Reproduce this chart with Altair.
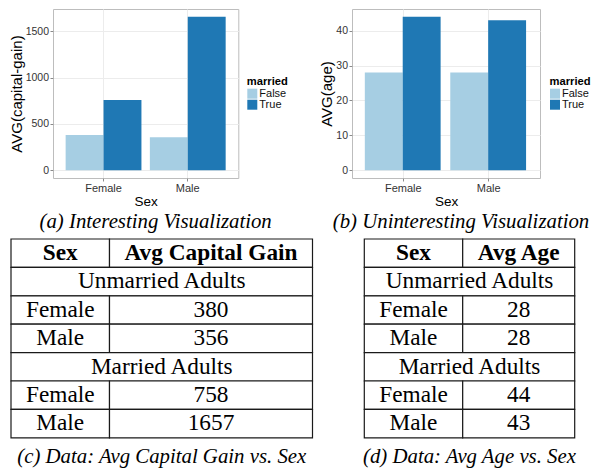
import altair as alt
import pandas as pd

# ---------------- data ----------------
sexes = ["Female", "Male"]
married_levels = ["False", "True"]
gain_unmarried = [380, 356]
gain_married = [758, 1657]
age_unmarried = [28, 28]
age_married = [44, 43]
gain_ticks = [0, 500, 1000, 1500]
age_ticks = [0, 10, 20, 30, 40]
bar_colors = ["#a6cee3", "#1f78b4"]
captions = [
    "(a) Interesting Visualization",
    "(b) Uninteresting Visualization",
    "(c) Data: Avg Capital Gain vs. Sex",
    "(d) Data: Avg Age vs. Sex",
]
group_labels = ["Unmarried Adults", "Married Adults"]
col_header = "Sex"
value_headers = ["Avg Capital Gain", "Avg Age"]

# ---------------- layout constants ----------------
PANEL_H = 169
ROW_H = 28.4
SANS = "Liberation Sans"
SERIF = "Liberation Serif"
CAP_SIZE = 20.8


def bar_df(unmarried, married):
    rows = []
    for s, u, m in zip(sexes, unmarried, married):
        rows.append({"Sex": s, "married": married_levels[0], "value": u})
        rows.append({"Sex": s, "married": married_levels[1], "value": m})
    return pd.DataFrame(rows)


def bar_chart(df, ytitle, ticks, panel_w, legend_x, caption, cap_dx, cap_offset):
    vmax = float(df["value"].max())
    pad = 0.05 * vmax
    return (
        alt.Chart(df)
        .mark_bar()
        .encode(
            x=alt.X(
                "Sex:N",
                sort=sexes,
                scale=alt.Scale(paddingInner=0.1, paddingOuter=0.15),
                axis=alt.Axis(
                    title="Sex", labelAngle=0, bandPosition=0.5, grid=True,
                    labelFontSize=11, titleFontSize=13.5, labelPadding=1, titlePadding=1,
                ),
            ),
            xOffset=alt.XOffset(
                "married:N", sort=married_levels,
                scale=alt.Scale(paddingInner=0, paddingOuter=0),
            ),
            y=alt.Y(
                "value:Q",
                scale=alt.Scale(domain=[-pad, vmax + pad], nice=False, zero=False),
                axis=alt.Axis(
                    title=ytitle, values=ticks, format="d", grid=True,
                    labelFontSize=10.5, titleFontSize=15, labelPadding=1.5, titlePadding=1,
                ),
            ),
            y2=alt.datum(0),
            color=alt.Color(
                "married:N",
                sort=married_levels,
                scale=alt.Scale(domain=married_levels, range=bar_colors),
                legend=alt.Legend(
                    title="married", orient="none", legendX=legend_x, legendY=67,
                    titleFont=SANS, titleFontWeight="bold", titleFontSize=11.2,
                    titleColor="#000", titlePadding=1,
                    labelFont=SANS, labelFontSize=11, labelColor="#111", labelOffset=1.5,
                    symbolType="square", symbolSize=100, symbolStrokeWidth=0,
                    symbolOpacity=1, rowPadding=-1, padding=0,
                ),
            ),
        )
        .properties(
            width=panel_w,
            height=PANEL_H,
            view=alt.ViewBackground(stroke="#bdbdbd", strokeWidth=1),
            title=alt.TitleParams(
                caption, orient="bottom", anchor="middle", frame="group",
                font=SERIF, fontStyle="italic", fontWeight="normal",
                fontSize=CAP_SIZE, color="#000", dx=cap_dx, offset=cap_offset,
            ),
        )
    )


def table_df(value_header, unmarried, married, col_w):
    total = col_w[0] + col_w[1]
    rows = [[(col_header, True), (value_header, True)], [(group_labels[0], False)]]
    rows += [[(s, False), (str(v), False)] for s, v in zip(sexes, unmarried)]
    rows += [[(group_labels[1], False)]]
    rows += [[(s, False), (str(v), False)] for s, v in zip(sexes, married)]
    cells = []
    for r, row in enumerate(rows):
        if len(row) == 1:
            bounds = [(0, total)]
        else:
            bounds = [(0, col_w[0]), (col_w[0], total)]
        for (label, bold), (a, b) in zip(row, bounds):
            cells.append({"row": r, "x0": a, "x1": b, "xm": (a + b) / 2,
                          "label": label, "bold": bold})
    return pd.DataFrame(cells), total, len(rows)


def table_chart(value_header, unmarried, married, col_w, caption, cap_offset, x_shift, view_w):
    df, total, nrows = table_df(value_header, unmarried, married, col_w)
    xs = alt.Scale(domain=[0, total], range=[x_shift, x_shift + total], nice=False, zero=False)
    ys = alt.Scale(paddingInner=0, paddingOuter=0)
    base = alt.Chart(df)
    cells = base.mark_rect(fill="white", stroke="#1a1a1a", strokeWidth=1.2, clip=False).encode(
        x=alt.X("x0:Q", scale=xs, axis=None),
        x2="x1:Q",
        y=alt.Y("row:O", scale=ys, axis=None),
    )
    txt = dict(font=SERIF, fontSize=23.3, baseline="alphabetic", dy=6.7,
               align="center", color="#000", clip=False)
    normal = base.transform_filter("!datum.bold").mark_text(**txt).encode(
        x=alt.X("xm:Q", scale=xs, axis=None),
        y=alt.Y("row:O", scale=ys, axis=None),
        text="label:N",
    )
    bold = base.transform_filter("datum.bold").mark_text(fontWeight="bold", **txt).encode(
        x=alt.X("xm:Q", scale=xs, axis=None),
        y=alt.Y("row:O", scale=ys, axis=None),
        text="label:N",
    )
    return alt.layer(cells, normal, bold).properties(
        width=view_w,
        height=nrows * ROW_H,
        view=alt.ViewBackground(stroke="transparent"),
        title=alt.TitleParams(
            caption, orient="bottom", anchor="middle", frame="group",
            font=SERIF, fontStyle="italic", fontWeight="normal",
            fontSize=CAP_SIZE, color="#000", offset=cap_offset,
            dx=(x_shift + total / 2) - view_w / 2,
        ),
    )


C_COLS = [98.5, 203]
D_COLS = [98.4, 112]
C_SHIFT = -42
D_SHIFT = 12.3

chart_a = bar_chart(bar_df(gain_unmarried, gain_married), "AVG(capital-gain)", gain_ticks,
                    185.3, 193.8, captions[0], 10, 4)
chart_b = bar_chart(bar_df(age_unmarried, age_married), "AVG(age)", age_ticks,
                    188, 197.5, captions[1], 15, 4)
table_c = table_chart(value_headers[0], gain_unmarried, gain_married, C_COLS,
                      captions[2], 9, C_SHIFT, sum(C_COLS) + C_SHIFT)
table_d = table_chart(value_headers[1], age_unmarried, age_married, D_COLS,
                      captions[3], 9, D_SHIFT, sum(D_COLS) + D_SHIFT)

chart = (
    alt.concat(
        chart_a, chart_b, table_c, table_d,
        columns=2,
        spacing={"row": 5, "column": 5},
    )
    .resolve_scale(color="independent")
    .properties(padding=0)
    .configure(font=SANS)
    .configure_view(stroke="transparent")
    .configure_axis(
        domain=False, ticks=True, tickSize=3, tickColor="#8a8a8a", tickWidth=1,
        gridColor="#ececec", gridWidth=1,
        labelFont=SANS, labelColor="#333", titleFont=SANS, titleColor="#000",
        titleFontWeight="normal",
    )
)

chart.save("out.html", embed_options={"renderer": "svg", "actions": False})
